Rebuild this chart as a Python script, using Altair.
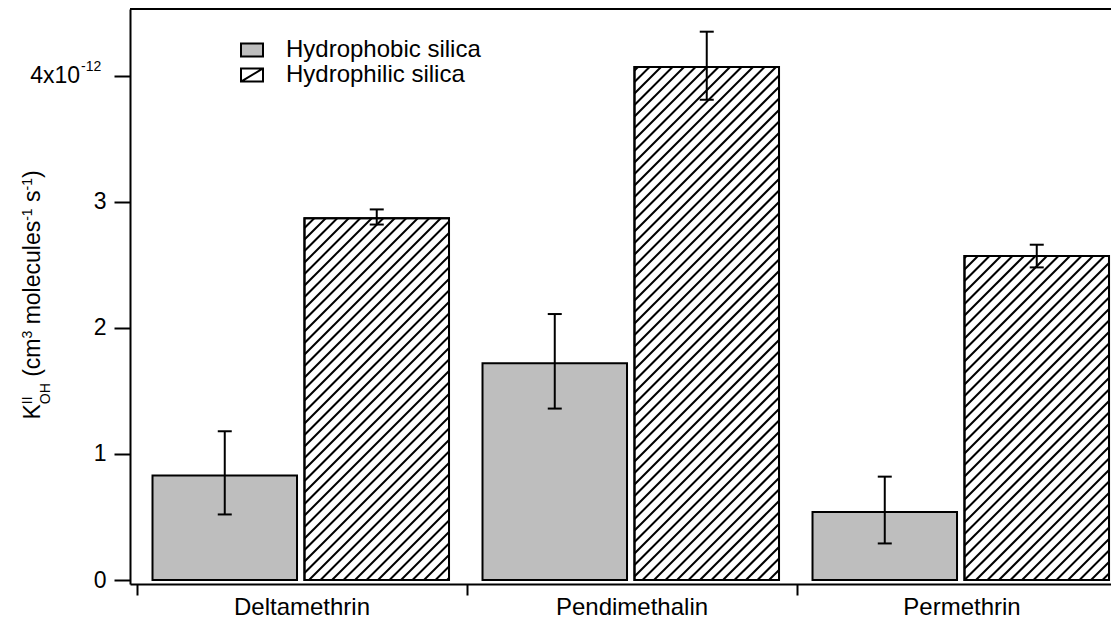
import json
import math
import pandas as pd
import altair as alt

# ---------------- data ----------------
categories = ["Deltamethrin", "Pendimethalin", "Permethrin"]
series_names = ["Hydrophobic silica", "Hydrophilic silica"]

hydrophobic = [0.83, 1.72, 0.54]
hydrophobic_lo = [0.52, 1.36, 0.29]
hydrophobic_hi = [1.18, 2.11, 0.82]

hydrophilic = [2.87, 4.07, 2.57]
hydrophilic_lo = [2.82, 3.81, 2.48]
hydrophilic_hi = [2.94, 4.35, 2.66]

y_ticks = [0, 1, 2, 3, 4]

# ---------------- layout ----------------
FONT = "Liberation Sans"
PLOT_W = 981
PLOT_H = 575
X_MIN, X_MAX = -0.0197, 2.953
GY = (PLOT_H - 4) / 4.53
Y_MIN, Y_MAX = -4 / GY, 4.53
GX = PLOT_W / (X_MAX - X_MIN)
BAR_SPANS = {series_names[0]: (0.0485, 0.4864), series_names[1]: (0.509, 0.947)}
CAP_HALF = 7 / GX
HATCH_STEP = 11.5

rows = []
for i, cat in enumerate(categories):
    for s, vals, lo, hi in [
        (series_names[0], hydrophobic, hydrophobic_lo, hydrophobic_hi),
        (series_names[1], hydrophilic, hydrophilic_lo, hydrophilic_hi),
    ]:
        a, b = BAR_SPANS[s]
        x0, x1 = i + a, i + b
        xc = (x0 + x1) / 2
        rows.append(dict(category=cat, series=s, x0=x0, x1=x1, xc=xc, base=0.0,
                         value=vals[i], lo=lo[i], hi=hi[i],
                         c0=xc - CAP_HALF, c1=xc + CAP_HALF))
bars = pd.DataFrame(rows)
hatched = bars[bars.series == series_names[1]]

# hatch segments ("/" at 45 degrees in pixel space), clipped to each hatched bar
hrows = []
for _, r in hatched.iterrows():
    X0, X1, H = r.x0 * GX, r.x1 * GX, r.value * GY
    k0 = math.floor((X0 - H) / HATCH_STEP)
    k1 = math.ceil(X1 / HATCH_STEP)
    for k in range(k0, k1 + 1):
        c = k * HATCH_STEP
        xa, xb = max(X0, c), min(X1, c + H)
        if xb - xa > 0.8:
            hrows.append(dict(hx0=xa / GX, hy0=(xa - c) / GY,
                              hx1=xb / GX, hy1=(xb - c) / GY))
hatch = pd.DataFrame(hrows)

one = pd.DataFrame({"k": [0]})

xs = alt.Scale(domain=[X_MIN, X_MAX], nice=False, zero=False)
ys = alt.Scale(domain=[Y_MIN, Y_MAX], nice=False, zero=False)

sym_rect = "M-1,-0.6H1V0.6H-1Z"
sym_hatch = "M-1,-0.6H1V0.6H-1Z M-1,0.6L1,-0.6"

common_legend = dict(
    title=None, orient="none", legendX=110, padding=0,
    symbolSize=484, symbolStrokeColor="black", symbolStrokeWidth=2,
    labelFont=FONT, labelFontSize=24, labelColor="black",
    labelOffset=22, labelLimit=400,
)
legend_fill = alt.Legend(values=[series_names[0]], legendY=29, symbolType=sym_rect,
                         **common_legend)
legend_stroke = alt.Legend(legendY=54, symbolType=sym_hatch, symbolFillColor="white",
                           **common_legend)

x_axis = alt.Axis(
    values=[0, 1, 2], title=None, grid=False,
    domainColor="black", domainWidth=2, tickColor="black", tickWidth=2, tickSize=11,
    labelExpr=json.dumps(categories) + "[datum.value]",
    labelOffset=0.5 * GX, labelFont=FONT, labelFontSize=24, labelColor="black",
    labelPadding=0, labelFlush=False, labelOverlap=False,
)
y_axis = alt.Axis(
    values=y_ticks, title=None, grid=False,
    domainColor="black", domainWidth=2, tickColor="black", tickWidth=2, tickSize=16,
    labelExpr="datum.value == 4 ? '' : datum.label",
    labelFont=FONT, labelFontSize=23, labelColor="black", labelPadding=8,
)


def X(field):
    return alt.X(field, type="quantitative", scale=xs, axis=x_axis)


def Y(field):
    return alt.Y(field, type="quantitative", scale=ys, axis=y_axis)


fill_layer = alt.Chart(bars).mark_rect(stroke="black", strokeWidth=2).encode(
    x=X("x0"), x2="x1", y=Y("value"), y2="base",
    fill=alt.Fill("series:N", scale=alt.Scale(domain=series_names, range=["#bebebe", "#ffffff"]),
                  legend=legend_fill),
)

hatch_layer = alt.Chart(hatch).mark_rule(color="black", strokeWidth=2).encode(
    x=X("hx0"), x2="hx1", y=Y("hy0"), y2="hy1",
)

outline_layer = alt.Chart(hatched).mark_rect(strokeWidth=2, fill="white", fillOpacity=0).encode(
    x=X("x0"), x2="x1", y=Y("value"), y2="base",
    stroke=alt.Stroke("series:N", scale=alt.Scale(domain=[series_names[1]], range=["black"]),
                      legend=legend_stroke),
)

err = alt.Chart(bars).mark_rule(color="black", strokeWidth=2).encode(
    x=X("xc"), y=Y("lo"), y2="hi",
)
cap_lo = alt.Chart(bars).mark_rule(color="black", strokeWidth=2).encode(
    x=X("c0"), x2="c1", y=Y("lo"),
)
cap_hi = alt.Chart(bars).mark_rule(color="black", strokeWidth=2).encode(
    x=X("c0"), x2="c1", y=Y("hi"),
)

top_frame = alt.Chart(one).mark_rule(color="black", strokeWidth=2).encode(
    x=alt.value(0), x2=alt.value(PLOT_W), y=alt.value(0)
)

# "4x10^-12" tick label
lab4 = alt.Chart(one).mark_text(text="4x10", font=FONT, fontSize=23, color="black",
                                align="right", baseline="middle").encode(
    x=alt.value(-50), y=alt.Y(datum=4, type="quantitative", scale=ys, axis=y_axis))
lab4e = alt.Chart(one).mark_text(text="-12", font=FONT, fontSize=14, color="black",
                                 align="left", baseline="middle", dy=-9).encode(
    x=alt.value(-49), y=alt.Y(datum=4, type="quantitative", scale=ys, axis=y_axis))

# ---------------- y-axis title with super/subscripts ----------------
W = {"K": .667, "I": .278, "O": .778, "H": .722, "(": .333, "c": .5, "m": .833,
     "3": .556, "o": .556, "l": .222, "e": .556, "u": .556, "s": .5, "-": .333,
     "1": .556, ")": .333, " ": .278}


def tw(s, size):
    return sum(W[ch] for ch in s) * size


MAIN, SMALL = 23, 14
BX_MAIN, BX_SUP, BX_SUB = -90, -98, -80
segs = [("K", "main"), (("II", "OH"), "supsub"), (" ", "space"), ("(cm", "main"),
        ("3", "sup"), (" ", "space"), ("molecules", "main"), ("-1", "sup"),
        (" ", "space"), ("s", "main"), ("-1", "sup"), (")", "main")]


def seg_len(t, kind):
    if kind == "supsub":
        return max(tw(t[0], SMALL), tw(t[1], SMALL))
    if kind in ("main", "space"):
        return tw(t, MAIN)
    return tw(t, SMALL)


total = sum(seg_len(t, k) for t, k in segs)
ypos = 286 + total / 2
title_layers = []


def rot_text(s, bx, by, size):
    return alt.Chart(one).mark_text(text=s, font=FONT, fontSize=size, color="black",
                                    angle=270, align="left", baseline="alphabetic").encode(
        x=alt.value(bx), y=alt.value(by))


for t, kind in segs:
    if kind == "main":
        title_layers.append(rot_text(t, BX_MAIN, ypos, MAIN))
    elif kind == "sup":
        title_layers.append(rot_text(t, BX_SUP, ypos, SMALL))
    elif kind == "supsub":
        title_layers.append(rot_text(t[0], BX_SUP, ypos, SMALL))
        title_layers.append(rot_text(t[1], BX_SUB, ypos, SMALL))
    ypos -= seg_len(t, kind)

chart = alt.layer(
    fill_layer, hatch_layer, outline_layer, err, cap_lo, cap_hi, top_frame,
    lab4, lab4e, *title_layers
).properties(
    width=PLOT_W, height=PLOT_H,
    autosize=alt.AutoSizeParams(type="none"),
    padding={"left": 122, "top": 1, "right": 0, "bottom": 37},
).configure(font=FONT, view=alt.ViewConfig(stroke=None))

chart.save("out.html", embed_options={"renderer": "svg", "actions": False})
